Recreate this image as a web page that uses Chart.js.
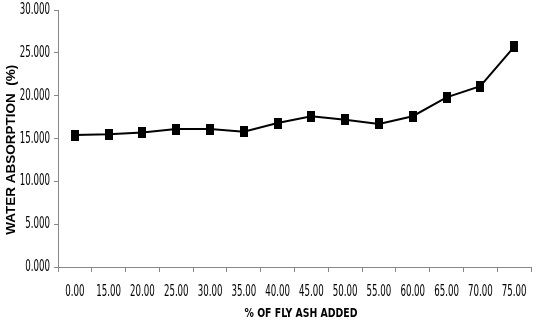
<!DOCTYPE html>
<html>
<head>
<meta charset="utf-8">
<script src="https://cdn.jsdelivr.net/npm/chart.js@4/dist/chart.umd.min.js"></script>
<style>
  html, body { margin: 0; padding: 0; background: #fff; }
  #wrap { width: 538px; height: 320px; }
</style>
</head>
<body>
<div id="wrap"><canvas id="myChart"></canvas></div>
<script>
// fly ash % (category labels) and water absorption values
const flyAsh = ['0.00', '15.00', '20.00', '25.00', '30.00', '35.00', '40.00',
  '45.00', '50.00', '55.00', '60.00', '65.00', '70.00', '75.00'];
const absorption = [15.4, 15.5, 15.7, 16.1, 16.1, 15.8, 16.8,
  17.6, 17.2, 16.7, 17.6, 19.8, 21.1, 25.7];
const yTicks = [0, 5, 10, 15, 20, 25, 30];

// padding spaces nudge the titles to where the original has them
const xTitle = '    % OF FLY ASH ADDED';
const yTitle = 'WATER ABSORPTION  (%)      ';

//--Chart Style Options--//
Chart.defaults.font.family = "'DejaVu Sans Condensed', 'DejaVu Sans', sans-serif";
Chart.defaults.color = '#000';
Chart.defaults.plugins.legend.display = false;
Chart.defaults.plugins.tooltip.enabled = false;
//--Chart Style Options--//

// black marker, a bit taller than wide
const marker = document.createElement('canvas');
marker.width = 8;
marker.height = 11;
const mctx = marker.getContext('2d');
mctx.fillStyle = '#000';
mctx.fillRect(0, 0, 8, 11);

const ctx = document.getElementById('myChart').getContext('2d');

// the original uses a very narrow font, so squeeze the text horizontally
const origFillText = ctx.fillText.bind(ctx);
ctx.fillText = function (text, x, y, maxWidth) {
  let sx = 0.6;
  if (text === yTitle) sx = 1;
  else if (text === xTitle) sx = 0.8;
  ctx.save();
  ctx.translate(x, y);
  ctx.scale(sx, 1);
  if (maxWidth !== undefined) origFillText(text, 0, 0, maxWidth / sx);
  else origFillText(text, 0, 0);
  ctx.restore();
};

new Chart(ctx, {
  type: 'line',
  data: {
    labels: flyAsh,
    datasets: [{
      label: 'Water absorption',
      data: absorption,
      borderColor: '#000',
      backgroundColor: '#000',
      borderWidth: 2,
      tension: 0,
      pointStyle: marker,
      pointRadius: 5
    }]
  },
  options: {
    responsive: true,
    maintainAspectRatio: false,
    animation: false,
    layout: { padding: { top: 0, right: 4, left: 0, bottom: 0 } },
    scales: {
      x: {
        offset: true,
        grid: {
          offset: true,
          drawOnChartArea: false,
          drawTicks: true,
          tickLength: 5,
          color: '#888'
        },
        border: { color: '#888', width: 1 },
        ticks: { font: { size: 16, lineHeight: 1 }, padding: 12, maxRotation: 0, autoSkip: false },
        title: {
          display: true,
          text: xTitle,
          font: { size: 13, weight: 'bold', lineHeight: 1 },
          padding: { top: 2, bottom: 0 }
        },
        afterFit: (scale) => {
          scale.height = 53;
          scale.paddingLeft = 0;
          scale.paddingRight = 0;
        }
      },
      y: {
        min: 0,
        max: 30,
        afterBuildTicks: (scale) => { scale.ticks = yTicks.map(v => ({ value: v })); },
        grid: {
          drawOnChartArea: false,
          drawTicks: true,
          tickLength: 4,
          color: '#888'
        },
        border: { color: '#888', width: 1 },
        ticks: {
          font: { size: 16 },
          padding: 4,
          callback: (v) => Number(v).toFixed(3)
        },
        title: {
          display: true,
          text: yTitle,
          font: { family: "'Liberation Sans', Arial, sans-serif", size: 13.5, weight: 'bold' },
          padding: { top: 3, bottom: 0 }
        },
        afterFit: (scale) => {
          scale.width = 58;
          scale.paddingTop = 10;
          scale.paddingBottom = 0;
        }
      }
    }
  }
});
</script>
</body>
</html>
